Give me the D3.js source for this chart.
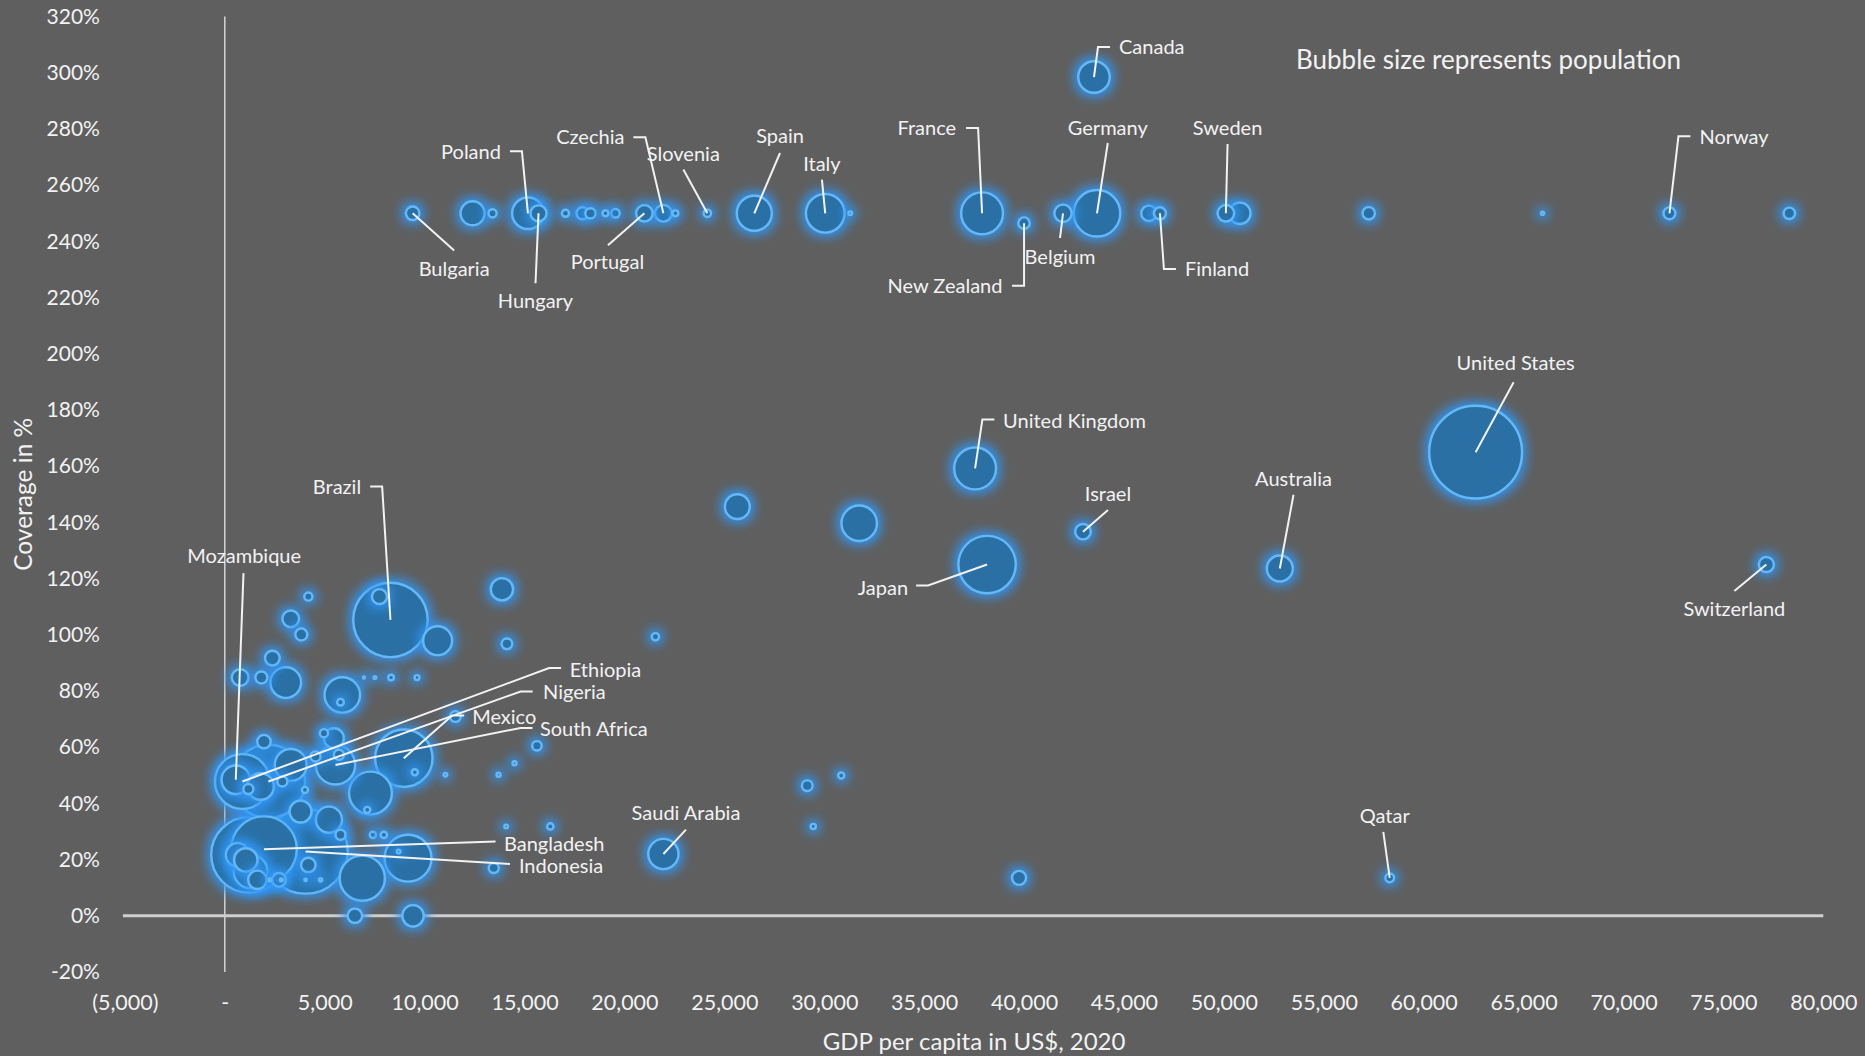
<!DOCTYPE html>
<html><head><meta charset="utf-8">
<script src="https://cdn.jsdelivr.net/npm/d3@7"></script>
<style>
html,body{margin:0;padding:0;background:#5f5f5f;}
svg{display:block;font-family:Lato,"Open Sans",sans-serif;}
</style></head><body>
<svg id="chart" width="1865" height="1056"></svg>
<script>
// ---------------- data ----------------
const countries = ["Bulgaria","","","Poland","Hungary","","","","","",
 "Portugal","Czechia","","Slovenia","Spain","Italy","","France","New Zealand","Belgium",
 "Germany","Canada","","Finland","Sweden","","","","Norway","",
 "United Kingdom","Japan","Israel","Australia","United States","Switzerland","Qatar","Saudi Arabia","","",
 "","","","","",
 "Brazil","","","","","","","","","",
 "","","","","","","","","","",
 "","","","","","","Mexico","","Mozambique","Ethiopia",
 "Nigeria","","","","","","South Africa","","","",
 "","","","","","Bangladesh","Indonesia","","","",
 "","","","","","","","","","",
 "","","","","","",""];
const gdpPerCapita = [9400,12400,13400,15170,15700,17050,17900,18300,19050,19550,
 21000,21950,22550,24150,26500,30050,31300,37900,40000,41950,
 43650,43500,46250,46800,50100,50800,57250,65950,72300,78300,
 37550,38150,42950,52800,62600,77150,58300,21950,25650,31750,
 21550,29150,30850,29450,39750,
 8290,7740,10650,4180,3300,3830,2380,770,1830,3050,
 5880,5790,6960,7510,8320,9620,11540,1960,4960,5460,
 13870,14120,15620,14500,13700,11040,8960,9510,550,880,
 2180,1180,1790,3300,2880,4010,5540,5710,4540,7290,
 7130,3790,5210,5790,1210,1960,4040,640,1050,1290,
 1630,2710,4180,6880,9170,8700,7410,7960,6510,9420,
 14080,16290,13460,2250,2830,4040,4790];
const coverage = [250,250,250,250,250,250,250,250,250,250,
 250,250,250,250,250,250,250,250,246.5,250,
 250,298.5,250,250,250,250,250,250,250,250,
 159.2,125,136.7,123.6,165,125,13.5,22,145.6,139.7,
 99.3,46.3,49.9,31.8,13.5,
 105.3,113.6,97.9,113.6,105.7,100.1,91.7,84.8,84.8,83,
 78.6,76,84.8,84.8,84.8,84.8,70.9,62,65,63.2,
 116.2,96.8,60.5,54.3,50.2,50.2,56.1,51.1,48.4,47.8,
 47.8,45.1,46,53.7,47.8,44.8,53.7,57.3,56.7,43.7,
 37.7,37.1,34.2,28.8,21.7,23.7,22.9,21.7,19.9,15.8,
 12.8,12.8,18.1,13.4,20.5,22.9,28.8,28.8,0,0,
 31.8,31.8,17,12.8,12.8,12.8,12.8];
const population = [7,22,2.5,38,9.7,1.9,5.5,4,1.3,2.8,
 10.3,10.7,1.3,2.1,47,57,0.5,67,5,11.5,
 83,38,9,5.5,10.4,17.4,5.8,0.4,5.4,5,
 67,126,9.2,25.7,330,8.6,2.9,35,23.6,48,
 2,4.3,1.4,1,7.5,
 212,8.6,32,2.5,10.6,5.5,8.2,10.6,5.5,36,
 48,1.7,0.15,0.3,1.2,0.9,4.3,6.9,2.5,15,
 19,4.3,3.4,0.6,0.6,0.5,126,1.4,31,115,
 206,3.8,27,39,3.8,1.4,59,3.8,3.8,70,
 1.4,18.5,26,3.8,218,165,273,21,21,43,
 13,7,8,78,84,0.5,1.5,1.5,8,17.5,
 0.5,1.5,3.8,0.3,0.3,0.2,0.4];
const xTicks = d3.range(-5000, 80001, 5000);
const yTicks = d3.range(-20, 321, 20);
const chartTitle = "Bubble size represents population";
const xTitle = "GDP per capita in US$, 2020";
const yTitle = "Coverage in %";

// ---------------- label layout (pixel offsets from bubble centre) ----------------
const labelLayout = {
 "Canada":{end:[4,-30],elbow:1,text:[25,-30],anchor:"start"},
 "Poland":{end:[-6,-62],elbow:-1,text:[-27,-61],anchor:"end"},
 "Bulgaria":{end:[41.5,37.3],elbow:0,text:[41.5,55.3],anchor:"middle"},
 "Hungary":{end:[-3,70],elbow:0,text:[-3,87.3],anchor:"middle"},
 "Portugal":{end:[-36.5,32],elbow:0,text:[-37,48.4],anchor:"middle"},
 "Czechia":{end:[-18,-76],elbow:-1,text:[-39,-76],anchor:"end"},
 "Slovenia":{end:[-24,-43.7],elbow:0,text:[-24,-59.5],anchor:"middle"},
 "Spain":{end:[25.7,-60.3],elbow:0,text:[25.7,-77],anchor:"middle"},
 "Italy":{end:[-3.3,-33.7],elbow:0,text:[-3.3,-49.7],anchor:"middle"},
 "France":{end:[-4,-85.3],elbow:-1,text:[-26,-85.3],anchor:"end"},
 "New Zealand":{end:[0,62.7],elbow:-1,text:[-21.6,63],anchor:"end"},
 "Belgium":{end:[-3,24.7],elbow:0,text:[-3,44],anchor:"middle"},
 "Germany":{end:[10.8,-70.3],elbow:0,text:[10.8,-85.3],anchor:"middle"},
 "Finland":{end:[4,55.7],elbow:1,text:[25,56],anchor:"start"},
 "Sweden":{end:[1.7,-69.3],elbow:0,text:[1.7,-85.3],anchor:"middle"},
 "Norway":{end:[9,-77],elbow:1,text:[30,-76.5],anchor:"start"},
 "United Kingdom":{end:[7.3,-49],elbow:1,text:[28,-47.3],anchor:"start"},
 "Israel":{end:[25,-21.7],elbow:0,text:[25,-37.7],anchor:"middle"},
 "Japan":{end:[-59,21],elbow:-1,text:[-79,23],anchor:"end"},
 "Australia":{end:[13.7,-73.7],elbow:0,text:[13.7,-89.3],anchor:"middle"},
 "United States":{end:[38,-70],elbow:0,text:[40,-89],anchor:"middle"},
 "Switzerland":{end:[-32,26.4],elbow:0,text:[-32,44.7],anchor:"middle"},
 "Qatar":{end:[-6.4,-46],elbow:0,text:[-5,-61.7],anchor:"middle"},
 "Saudi Arabia":{end:[22.6,-24.3],elbow:0,text:[22.6,-40.6],anchor:"middle"},
 "Brazil":{end:[-8.3,-133.3],elbow:-1,text:[-29.3,-132.7],anchor:"end"},
 "Mozambique":{end:[7.7,-206.7],elbow:0,text:[8.4,-223.3],anchor:"middle"},
 "Ethiopia":{end:[306.7,-113.4],elbow:1,text:[327.3,-111.7],anchor:"start"},
 "Nigeria":{end:[252.3,-90],elbow:1,text:[274.7,-89],anchor:"start"},
 "Mexico":{end:[48.3,-42.6],elbow:1,text:[68.3,-41],anchor:"start"},
 "South Africa":{end:[185,-37],elbow:1,text:[204.4,-36],anchor:"start"},
 "Bangladesh":{end:[231.6,-7.6],elbow:0,text:[240,-5.3],anchor:"start"},
 "Indonesia":{end:[204.4,12.6],elbow:0,text:[213.4,14.3],anchor:"start"}
};

// ---------------- chart ----------------
const svg = d3.select("#chart");
const textColor = "#f2f2f2";
const x = d3.scaleLinear().domain([-5000, 80000]).range([124.9, 1823.3]);
const y = d3.scaleLinear().domain([-20, 320]).range([972, 16.6]);
const r = d3.scaleSqrt().domain([0, 330]).range([0, 46.4]);

svg.append("rect").attr("width",1865).attr("height",1056).attr("fill","#5f5f5f");

// glow filters
const defs = svg.append("defs");
function glow(id, m){
  const f = defs.append("filter").attr("id",id)
    .attr("x",(-m*100)+"%").attr("y",(-m*100)+"%")
    .attr("width",(100+2*m*100)+"%").attr("height",(100+2*m*100)+"%");
  f.append("feMorphology").attr("in","SourceAlpha").attr("operator","dilate").attr("radius",3).attr("result","dil");
  f.append("feGaussianBlur").attr("in","dil").attr("stdDeviation",5.5).attr("result","blur");
  f.append("feFlood").attr("flood-color","#2f95f5").attr("flood-opacity",0.95);
  f.append("feComposite").attr("in2","blur").attr("operator","in").attr("result","g");
  const mg = f.append("feMerge");
  mg.append("feMergeNode").attr("in","g");
  mg.append("feMergeNode").attr("in","SourceGraphic");
}
glow("glowXS", 7); glow("glowS", 2.2); glow("glowM", 1.1); glow("glowL", 0.55);
function glowFor(rad){ return rad < 4 ? "url(#glowXS)" : rad < 9 ? "url(#glowS)" : rad < 20 ? "url(#glowM)" : "url(#glowL)"; }

// axes
const yAxis = d3.axisLeft(y).tickValues(yTicks).tickFormat(d => d + "%").tickSize(0).tickPadding(25);
const gy = svg.append("g").attr("transform", `translate(${x(-5000)},0)`).call(yAxis);
gy.select(".domain").remove();
gy.selectAll("text").attr("fill", textColor).style("font-size","21px").style("font-family","Lato");

const fmt = d3.format(",");
const xAxis = d3.axisBottom(x).tickValues(xTicks)
  .tickFormat(d => d < 0 ? "(" + fmt(-d) + ")" : d === 0 ? "-" : fmt(d)).tickSize(0).tickPadding(23);
const gx = svg.append("g").attr("transform", `translate(0,${y(-20)})`).call(xAxis);
gx.select(".domain").remove();
gx.selectAll("text").attr("fill", textColor).style("font-size","21.5px").style("font-family","Lato");

// zero lines
svg.append("line").attr("x1", x(0)).attr("x2", x(0)).attr("y1", y(320)).attr("y2", y(-20))
  .attr("stroke","#d4d4d4").attr("stroke-width",1.5);
svg.append("line").attr("x1", x(-5000)-2).attr("x2", x(80000)).attr("y1", y(0)).attr("y2", y(0))
  .attr("stroke","#cfcfcf").attr("stroke-width",3);

// axis titles
svg.append("text").attr("x", (x(-5000)+x(80000))/2).attr("y", 1042).attr("dy","0.35em")
  .attr("text-anchor","middle").attr("fill",textColor).style("font-size","24px").text(xTitle);
svg.append("text").attr("transform", `translate(23,${(y(320)+y(-20))/2}) rotate(-90)`).attr("dy","0.35em")
  .attr("text-anchor","middle").attr("fill",textColor).style("font-size","24.5px").text(yTitle);

// bubbles
const data = countries.map((c,i) => ({name:c, gdp:gdpPerCapita[i], cov:coverage[i], pop:population[i]}))
  .sort((a,b) => b.pop - a.pop);
svg.append("g").selectAll("circle").data(data).join("circle")
  .attr("cx", d => x(d.gdp)).attr("cy", d => y(d.cov)).attr("r", d => r(d.pop))
  .attr("fill","#2b6fa5").attr("stroke","#63b9f7").attr("stroke-width",2.4)
  .attr("filter", d => glowFor(r(d.pop)));

// labels & leader lines
const labelled = data.filter(d => labelLayout[d.name]);
const gl = svg.append("g");
labelled.forEach(d => {
  const L = labelLayout[d.name];
  const cx = x(d.gdp), cy = y(d.cov);
  const ex = cx + L.end[0], ey = cy + L.end[1];
  let p = `M${cx},${cy}L${ex},${ey}`;
  if (L.elbow) p += `L${ex + 12*L.elbow},${ey}`;
  gl.append("path").attr("d", p).attr("fill","none").attr("stroke","#f2f2f2").attr("stroke-width",2);
  gl.append("text").attr("x", cx + L.text[0]).attr("y", cy + L.text[1]).attr("dy","0.35em")
    .attr("text-anchor", L.anchor).attr("fill", textColor).style("font-size","20px").text(d.name);
});

// title
svg.append("text").attr("x", 1296).attr("y", 60).attr("dy","0.35em").attr("fill",textColor)
  .style("font-size","26px").text(chartTitle);
</script>
</body></html>
